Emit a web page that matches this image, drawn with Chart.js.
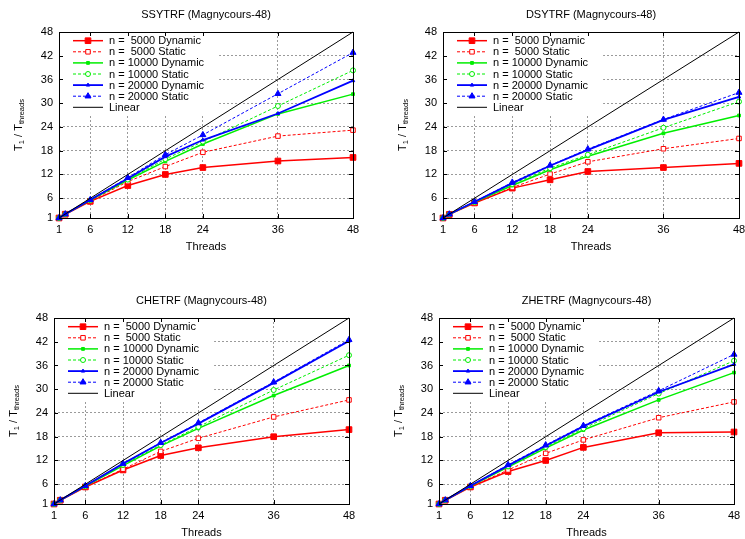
<!DOCTYPE html>
<html>
<head>
    <title>Magnycours-48 speedup</title>
    <script src="https://cdn.jsdelivr.net/npm/chart.js@4"></script>
    <style>
        body { margin: 0; background: #fff; }
        .panel { position: absolute; }
    </style>
</head>
<body>
    <div class="panel" style="left:0px;top:0px"><canvas id="ssytrf" width="372" height="270"></canvas></div>
    <div class="panel" style="left:372px;top:0px"><canvas id="dsytrf" width="373" height="270"></canvas></div>
    <div class="panel" style="left:0px;top:270px"><canvas id="chetrf" width="372" height="269"></canvas></div>
    <div class="panel" style="left:372px;top:270px"><canvas id="zhetrf" width="373" height="269"></canvas></div>

    <script>
    const threads = [1, 2, 6, 12, 18, 24, 36, 48];
    const linearThreads = [1, 48];
    const xTicks = [1, 6, 12, 18, 24, 36, 48];
    const yTicks = [1, 6, 12, 18, 24, 30, 36, 42, 48];
    const seriesLabels = ['n =  5000 Dynamic', 'n =  5000 Static', 'n = 10000 Dynamic',
                          'n = 10000 Static', 'n = 20000 Dynamic', 'n = 20000 Static', 'Linear'];

    // SSYTRF
    const ssytrfDyn5000  = [1, 1.95, 5.2, 9.2, 12.0, 13.75, 15.4, 16.3];
    const ssytrfSta5000  = [1, 1.95, 5.3, 10.2, 14.0, 17.6, 21.7, 23.2];
    const ssytrfDyn10000 = [1, 1.97, 5.5, 10.6, 15.3, 19.7, 27.3, 32.3];
    const ssytrfSta10000 = [1, 1.97, 5.5, 10.7, 15.9, 20.3, 29.3, 38.3];
    const ssytrfDyn20000 = [1, 1.98, 5.6, 11.0, 16.5, 20.7, 27.4, 35.7];
    const ssytrfSta20000 = [1, 1.98, 5.6, 11.2, 17.0, 22.0, 32.4, 42.8];

    // DSYTRF
    const dsytrfDyn5000  = [1, 1.9, 4.8, 8.55, 10.65, 12.75, 13.75, 14.8];
    const dsytrfSta5000  = [1, 1.9, 4.8, 8.7, 12.1, 15.2, 18.5, 21.1];
    const dsytrfDyn10000 = [1, 1.92, 5.0, 9.2, 13.2, 16.6, 22.4, 26.9];
    const dsytrfSta10000 = [1, 1.92, 5.0, 9.6, 13.6, 17.0, 23.8, 30.4];
    const dsytrfDyn20000 = [1, 1.95, 5.1, 9.8, 14.2, 18.2, 25.8, 31.6];
    const dsytrfSta20000 = [1, 1.95, 5.1, 10.0, 14.3, 18.4, 25.9, 32.7];

    // CHETRF
    const chetrfDyn5000  = [1, 1.95, 5.3, 9.6, 13.25, 15.2, 18.0, 19.8];
    const chetrfSta5000  = [1, 1.95, 5.3, 9.8, 14.3, 17.6, 23.0, 27.3];
    const chetrfDyn10000 = [1, 1.97, 5.5, 10.7, 15.7, 20.1, 28.4, 36.0];
    const chetrfSta10000 = [1, 1.97, 5.5, 10.9, 15.9, 20.5, 29.8, 38.6];
    const chetrfDyn20000 = [1, 1.98, 5.6, 11.2, 16.4, 21.3, 31.6, 42.2];
    const chetrfSta20000 = [1, 1.98, 5.6, 11.2, 16.5, 21.5, 31.8, 42.5];

    // ZHETRF
    const zhetrfDyn5000  = [1, 1.95, 5.3, 9.2, 12.0, 15.3, 19.0, 19.2];
    const zhetrfSta5000  = [1, 1.95, 5.3, 9.6, 13.8, 17.2, 22.8, 26.8];
    const zhetrfDyn10000 = [1, 1.97, 5.5, 10.3, 15.1, 19.7, 27.3, 34.2];
    const zhetrfSta10000 = [1, 1.97, 5.5, 10.5, 15.4, 20.1, 28.9, 37.2];
    const zhetrfDyn20000 = [1, 1.98, 5.6, 10.7, 15.7, 20.6, 29.3, 36.3];
    const zhetrfSta20000 = [1, 1.98, 5.6, 10.9, 15.9, 20.8, 29.6, 38.8];

    const FONT = '"Liberation Sans", Arial, Helvetica, sans-serif';

    // line / marker look for each series, gnuplot style
    function styleFor(i) {
        const styles = [
            { color: '#ff0000', width: 1.5, dash: [],     point: 'rect',     radius: 4,   fill: '#ff0000' },
            { color: '#ff0000', width: 1,   dash: [3, 2], point: 'rect',     radius: 3.2, fill: '#ffffff' },
            { color: '#00ee00', width: 1.5, dash: [],     point: 'rect',     radius: 2,   fill: '#00ee00' },
            { color: '#00ee00', width: 1,   dash: [3, 2], point: 'circle',   radius: 2.5, fill: '#ffffff' },
            { color: '#0000ff', width: 1.8, dash: [],     point: 'triangle', radius: 2,   fill: '#0000ff' },
            { color: '#0000ff', width: 1,   dash: [3, 2], point: 'triangle', radius: 3.5, fill: '#0000ff' },
            { color: '#000000', width: 1,   dash: [],     point: false,      radius: 0,   fill: '#000000' }
        ];
        return styles[i];
    }

    function makeDataset(i, xs, ys) {
        const s = styleFor(i);
        return {
            label: seriesLabels[i],
            data: xs.map((x, k) => ({ x: x, y: ys[k] })),
            borderColor: s.color,
            borderWidth: s.width,
            borderDash: s.dash,
            pointStyle: s.point,
            pointRadius: s.radius,
            pointBackgroundColor: s.fill,
            pointBorderColor: s.color,
            pointBorderWidth: 1,
            fill: false,
            tension: 0,
            clip: 6,
            order: 6 - i
        };
    }

    function drawMarker(ctx, s, x, y) {
        if (!s.point) return;
        ctx.save();
        ctx.setLineDash([]);
        ctx.fillStyle = s.fill;
        ctx.strokeStyle = s.color;
        ctx.lineWidth = 1;
        if (Chart.helpers && Chart.helpers.drawPoint) {
            Chart.helpers.drawPoint(ctx, { pointStyle: s.point, radius: s.radius, rotation: 0, borderWidth: 1 }, x, y);
        } else {
            ctx.fillRect(x - s.radius * 0.7, y - s.radius * 0.7, s.radius * 1.4, s.radius * 1.4);
        }
        ctx.restore();
    }

    // gnuplot-like decorations: opaque key box, frame with inward ticks, titles
    const decorPlugin = {
        id: 'decor',
        beforeDatasetsDraw(chart, args, opts) {
            const ctx = chart.ctx;
            const a = chart.chartArea;
            ctx.save();
            ctx.font = '11px ' + FONT;
            let maxW = 0;
            chart.data.datasets.forEach(d => { maxW = Math.max(maxW, ctx.measureText(d.label).width); });
            const rowH = 11.1;
            const n = chart.data.datasets.length;
            ctx.fillStyle = '#ffffff';
            ctx.fillRect(a.left + 1, a.top + 1, 50 + maxW + 14, 8.5 + (n - 1) * rowH + 6);
            chart.data.datasets.forEach((d, i) => {
                const s = styleFor(i);
                const y = a.top + 8.7 + i * rowH;
                ctx.beginPath();
                ctx.setLineDash(s.dash);
                ctx.lineWidth = s.width;
                ctx.strokeStyle = s.color;
                ctx.moveTo(a.left + 14, y);
                ctx.lineTo(a.left + 44, y);
                ctx.stroke();
                drawMarker(ctx, s, a.left + 29, y);
                ctx.setLineDash([]);
                ctx.fillStyle = '#000';
                ctx.textAlign = 'left';
                ctx.textBaseline = 'middle';
                ctx.fillText(d.label, a.left + 50, y + 0.5);
            });
            ctx.restore();
        },
        afterDatasetsDraw(chart) {
            const ctx = chart.ctx;
            const a = chart.chartArea;
            const xs = chart.scales.x;
            const ys = chart.scales.y;
            ctx.save();
            ctx.setLineDash([]);
            ctx.strokeStyle = '#000';
            ctx.lineWidth = 1;
            ctx.strokeRect(Math.round(a.left) + 0.5, Math.round(a.top) + 0.5,
                           Math.round(a.right - a.left), Math.round(a.bottom - a.top));
            ctx.beginPath();
            xTicks.forEach(v => {
                const px = Math.round(xs.getPixelForValue(v)) + 0.5;
                ctx.moveTo(px, a.bottom); ctx.lineTo(px, a.bottom - 4);
                ctx.moveTo(px, a.top); ctx.lineTo(px, a.top + 4);
            });
            yTicks.forEach(v => {
                const py = Math.round(ys.getPixelForValue(v)) + 0.5;
                ctx.moveTo(a.left, py); ctx.lineTo(a.left + 4, py);
                ctx.moveTo(a.right, py); ctx.lineTo(a.right - 4, py);
            });
            ctx.stroke();
            ctx.restore();
        },
        afterDraw(chart, args, opts) {
            const ctx = chart.ctx;
            const a = chart.chartArea;
            const cx = (a.left + a.right) / 2;
            const cy = (a.top + a.bottom) / 2;
            ctx.save();
            ctx.fillStyle = '#000';
            ctx.textAlign = 'center';
            ctx.textBaseline = 'middle';
            ctx.font = '11px ' + FONT;
            ctx.fillText(opts.title, cx, a.top - 17);
            ctx.fillText('Threads', cx, a.bottom + 29);

            // rotated y label: T1 / Tthreads with subscripts
            const big = '11px ' + FONT;
            const small = '7.5px ' + FONT;
            const parts = [['T', big, 0], ['1', small, 3], [' / T', big, 0], ['threads', small, 3]];
            let total = 0;
            parts.forEach(p => { ctx.font = p[1]; total += ctx.measureText(p[0]).width; });
            ctx.translate(a.left - 40, cy);
            ctx.rotate(-Math.PI / 2);
            ctx.textAlign = 'left';
            let x = -total / 2;
            parts.forEach(p => {
                ctx.font = p[1];
                ctx.fillText(p[0], x, p[2]);
                x += ctx.measureText(p[0]).width;
            });
            ctx.restore();
        }
    };

    function gridColor(ctx) {
        const v = ctx.tick ? ctx.tick.value : null;
        return (v === 1 || v === 48) ? 'rgba(0,0,0,0)' : '#9a9a9a';
    }

    function createChart(canvasId, title, area, series) {
        const canvas = document.getElementById(canvasId);
        const w = canvas.width, h = canvas.height;
        const datasets = series.map((ys, i) => makeDataset(i, threads, ys));
        datasets.push(makeDataset(6, linearThreads, linearThreads));
        new Chart(canvas.getContext('2d'), {
            type: 'line',
            data: { datasets: datasets },
            plugins: [decorPlugin],
            options: {
                responsive: false,
                animation: false,
                events: [],
                layout: {
                    padding: { left: area[0] - 20, top: area[1], right: w - area[2], bottom: h - area[3] - 20 }
                },
                plugins: {
                    legend: { display: false },
                    title: { display: false },
                    tooltip: { enabled: false },
                    decor: { title: title }
                },
                scales: {
                    x: {
                        type: 'linear',
                        min: 1,
                        max: 48,
                        afterBuildTicks: s => { s.ticks = xTicks.map(v => ({ value: v })); },
                        afterFit: s => { s.height = 20; s.paddingLeft = 0; s.paddingRight = 0; },
                        ticks: { autoSkip: false, maxRotation: 0, padding: 5, color: '#000', font: { family: FONT, size: 11 } },
                        grid: { color: gridColor, drawTicks: false, lineWidth: 1 },
                        border: { display: false, dash: [2, 2] }
                    },
                    y: {
                        type: 'linear',
                        min: 1,
                        max: 48,
                        afterBuildTicks: s => { s.ticks = yTicks.map(v => ({ value: v })); },
                        afterFit: s => { s.width = 20; s.paddingTop = 0; s.paddingBottom = 0; },
                        ticks: { autoSkip: false, padding: 6, color: '#000', font: { family: FONT, size: 11 } },
                        grid: { color: gridColor, drawTicks: false, lineWidth: 1 },
                        border: { display: false, dash: [2, 2] }
                    }
                }
            }
        });
    }

    createChart('ssytrf', 'SSYTRF (Magnycours-48)', [59, 32, 353, 218],
        [ssytrfDyn5000, ssytrfSta5000, ssytrfDyn10000, ssytrfSta10000, ssytrfDyn20000, ssytrfSta20000]);
    createChart('dsytrf', 'DSYTRF (Magnycours-48)', [71, 32, 367, 218],
        [dsytrfDyn5000, dsytrfSta5000, dsytrfDyn10000, dsytrfSta10000, dsytrfDyn20000, dsytrfSta20000]);
    createChart('chetrf', 'CHETRF (Magnycours-48)', [54, 48, 349, 234],
        [chetrfDyn5000, chetrfSta5000, chetrfDyn10000, chetrfSta10000, chetrfDyn20000, chetrfSta20000]);
    createChart('zhetrf', 'ZHETRF (Magnycours-48)', [67, 48, 362, 234],
        [zhetrfDyn5000, zhetrfSta5000, zhetrfDyn10000, zhetrfSta10000, zhetrfDyn20000, zhetrfSta20000]);
    </script>
</body>
</html>
